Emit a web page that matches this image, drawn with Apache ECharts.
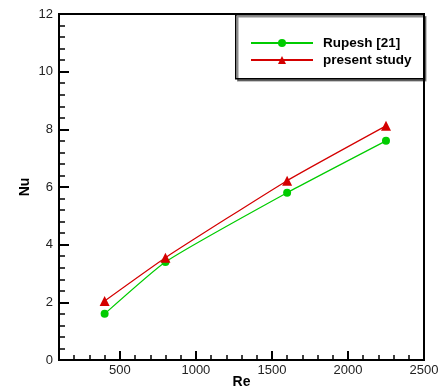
<!DOCTYPE html>
<html><head><meta charset="utf-8">
<script src="https://cdn.jsdelivr.net/npm/echarts@6/dist/echarts.min.js"></script>
<style>html,body{margin:0;padding:0;background:#fff}#c{width:441px;height:389px}</style>
</head><body><div id="c"></div>
<script>
const re = [400, 800, 1600, 2250];
const rupesh = [1.6, 3.4, 5.8, 7.6];
const present = [2.05, 3.55, 6.22, 8.12];
const xTicks = [500, 1000, 1500, 2000, 2500];
const xMinor = [200,300,400,600,700,800,900,1100,1200,1300,1400,1600,1700,1800,1900,2100,2200,2300,2400];
const names = ['Rupesh [21]', 'present study'];

const FONT = '"Liberation Sans", Arial, sans-serif';
const chart = echarts.init(document.getElementById('c'), null, {renderer: 'canvas'});
chart.setOption({
  animation: false,
  backgroundColor: '#fff',
  grid: {left: 59, right: 17, top: 14, bottom: 29, containLabel: false, outerBoundsMode: 'none', show: true, borderColor: '#000', borderWidth: 2, backgroundColor: 'transparent'},
  graphic: [{
    type: 'rect', left: 235, top: 14, z: 50,
    shape: {width: 188, height: 64},
    style: {fill: '#fff', stroke: '#000', lineWidth: 1.5, shadowColor: 'rgba(0,0,0,0.45)', shadowOffsetX: 2, shadowOffsetY: 2, shadowBlur: 0}
  }],
  legend: {
    z: 60, orient: 'vertical', left: 250, top: 36, padding: 0, itemGap: 3, itemWidth: 62, itemHeight: 10,
    textStyle: {fontFamily: FONT, fontWeight: 'bold', fontSize: 13.5, color: '#000', padding: [0, 0, 0, 5]},
    data: names
  },
  xAxis: [{
    type: 'value', min: 100, max: 2500,
    name: 'Re', nameLocation: 'middle', nameGap: 15, nameMoveOverlap: false,
    nameTextStyle: {fontFamily: FONT, fontWeight: 'bold', fontSize: 14, color: '#000', verticalAlign: 'top'},
    axisLine: {show: true, onZero: false, lineStyle: {color: '#000', width: 2}},
    axisTick: {show: true, inside: true, length: 9, customValues: xTicks, lineStyle: {color: '#000', width: 2}},
    axisLabel: {customValues: xTicks, formatter: v => String(v), fontFamily: FONT, fontSize: 13, color: '#222', margin: 4},
    splitLine: {show: false}
  }, {
    type: 'value', min: 100, max: 2500, position: 'bottom',
    axisLine: {show: false, onZero: false},
    axisTick: {show: true, inside: true, length: 5, customValues: xMinor, lineStyle: {color: '#000', width: 1.5}},
    axisLabel: {show: false},
    splitLine: {show: false}
  }],
  yAxis: {
    type: 'value', min: 0, max: 12, interval: 2,
    name: 'Nu', nameLocation: 'middle', nameGap: 27, nameRotate: 90, nameMoveOverlap: false,
    nameTextStyle: {fontFamily: FONT, fontWeight: 'bold', fontSize: 14, color: '#000'},
    axisLine: {show: true, lineStyle: {color: '#000', width: 2}},
    axisTick: {show: true, inside: true, length: 10, lineStyle: {color: '#000', width: 2}},
    minorTick: {show: true, splitNumber: 5, length: 6, lineStyle: {color: '#000', width: 1.5}},
    axisLabel: {fontFamily: FONT, fontSize: 13, color: '#222', margin: 6},
    splitLine: {show: false}
  },
  series: [{
    name: names[0], type: 'line', smooth: 0.15,
    data: re.map((x, i) => [x, rupesh[i]]),
    symbol: 'circle', symbolSize: 8,
    lineStyle: {color: '#00cc00', width: 1.2},
    itemStyle: {color: '#00cc00'}
  }, {
    name: names[1], type: 'line', smooth: 0.15,
    data: re.map((x, i) => [x, present[i]]),
    symbol: 'triangle', symbolSize: 10,
    lineStyle: {color: '#d40000', width: 1.2},
    itemStyle: {color: '#d40000'}
  }]
});
</script></body></html>
